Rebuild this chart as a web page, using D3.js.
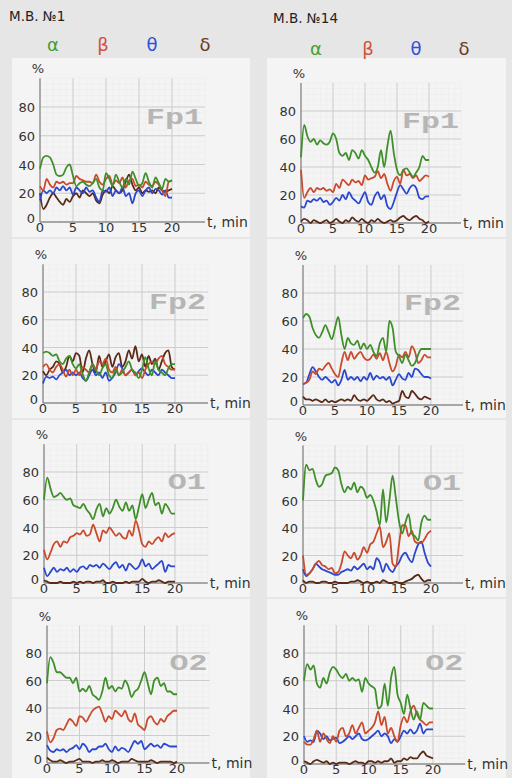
<!DOCTYPE html>
<html>
<head>
<meta charset="utf-8">
<script src="https://cdn.jsdelivr.net/npm/d3@7"></script>
<style>
  body { margin: 0; background: #e8e8e8; }
  svg { display: block; font-family: "DejaVu Sans", sans-serif; }
</style>
</head>
<body>
<svg id="chart" width="512" height="778"></svg>
<script>
// sampling: one reading every half minute, 0..20 min
var step = 0.5;
var bandNames = ['α', 'β', 'θ', 'δ'];
var subjects = ['М.В. №1', 'М.В. №14'];
var leads = ['Fp1', 'Fp2', 'O1', 'O2'];
var yTicks = [0, 20, 40, 60, 80];
var xTicks = [0, 5, 10, 15, 20];

// М.В. №1
var fp1Alpha1 = [37,45,46,45,40,33,32,33,38,40,32,25,27,28,26,25,27,30,24,22,34,30,25,33,28,24,30,26,35,30,25,27,34,28,24,31,27,23,30,28,29];
var fp1Beta1  = [25,22,30,26,24,28,27,28,26,27,27,32,30,29,28,28,27,33,28,26,30,32,26,29,27,31,24,29,30,25,26,24,28,26,25,28,26,22,18,28,29];
var fp1Theta1 = [15,22,20,22,20,24,22,25,22,24,19,24,22,20,24,21,22,17,14,22,21,24,18,22,20,24,18,20,13,20,22,18,22,24,20,23,22,19,22,17,17];
var fp1Delta1 = [20,9,12,17,20,17,14,12,16,14,18,20,17,22,20,18,20,15,13,19,22,20,25,22,20,22,28,33,26,22,24,20,22,21,22,20,24,22,21,22,23];

var fp2Alpha1 = [36,37,36,34,35,30,28,32,34,28,25,28,21,16,22,28,24,20,25,28,20,18,24,20,22,26,30,24,22,18,24,33,25,20,30,24,22,20,25,28,28];
var fp2Beta1  = [26,28,24,22,26,28,24,19,24,20,24,20,26,24,22,28,24,30,28,32,24,22,26,20,24,20,22,24,20,22,18,24,28,30,28,32,34,28,26,24,24];
var fp2Theta1 = [14,19,18,19,17,20,22,24,20,22,20,22,18,16,20,24,20,22,18,22,16,18,22,28,25,20,22,24,20,23,25,22,20,24,22,20,24,22,20,18,18];
var fp2Delta1 = [23,20,24,26,30,28,22,26,34,30,36,34,22,32,38,28,22,34,26,30,35,26,33,36,26,30,38,32,41,30,35,26,34,28,32,24,30,36,38,26,24];

var o1Alpha1 = [60,76,68,62,63,65,62,60,61,56,55,54,57,53,50,46,53,57,48,54,50,54,60,55,52,58,52,56,46,55,64,54,60,65,56,58,50,57,54,50,50];
var o1Beta1  = [24,17,22,28,30,26,30,29,33,34,36,35,38,34,35,42,36,30,38,36,40,37,34,36,33,32,38,34,45,38,28,26,30,28,31,33,30,36,33,35,36];
var o1Theta1 = [11,5,8,11,8,10,9,11,8,10,8,11,12,10,13,12,13,11,14,12,10,13,15,11,13,9,14,12,10,12,17,12,14,10,12,14,16,8,13,12,12];
var o1Delta1 = [2,1,0,0,0,1,0,0,0,1,0,1,0,1,1,0,1,1,2,0,0,1,0,0,0,1,0,1,1,1,3,1,0,1,1,2,1,0,1,1,1];

var o2Alpha1 = [58,77,73,66,66,64,62,62,58,62,52,54,52,56,50,48,46,52,62,54,56,52,55,54,60,56,48,52,54,60,66,58,50,60,62,56,58,52,52,50,50];
var o2Beta1  = [23,15,18,24,25,24,28,32,30,27,34,33,30,34,38,40,41,36,30,34,32,38,36,34,38,32,30,36,28,26,24,32,34,30,28,32,30,34,36,38,38];
var o2Theta1 = [13,9,8,10,9,10,8,10,11,13,10,14,12,8,10,10,12,12,14,10,8,12,9,11,10,8,12,16,14,16,10,12,14,12,13,11,14,13,12,12,12];
var o2Delta1 = [4,2,1,1,2,1,0,1,1,2,3,1,1,1,0,1,1,2,1,1,2,1,0,1,1,1,3,2,1,1,1,1,2,1,0,1,1,1,1,0,1];

// М.В. №14
var fp1Alpha14 = [47,70,62,58,60,56,59,57,56,58,64,60,50,48,50,45,52,50,46,52,48,45,40,36,40,52,40,55,66,50,38,34,38,39,36,33,36,40,48,45,45];
var fp1Beta14  = [38,18,22,25,22,25,24,25,23,24,22,28,25,31,29,27,31,29,30,27,34,31,32,33,37,32,35,28,23,30,33,28,38,34,35,32,34,30,32,34,33];
var fp1Theta14 = [12,11,16,15,17,16,18,15,16,13,15,18,16,20,17,22,18,16,14,18,22,15,13,19,22,17,20,12,10,15,22,27,24,21,25,27,25,18,17,19,19];
var fp1Delta14 = [1,3,2,0,2,1,0,1,2,0,1,3,1,0,2,1,4,2,1,3,1,0,2,1,3,1,0,1,2,1,2,4,5,3,2,4,5,3,2,0,1];

var fp2Alpha14 = [62,65,63,55,50,48,52,57,52,47,55,63,50,40,48,44,43,46,40,44,40,43,38,35,44,48,38,60,55,38,35,30,36,32,28,30,36,40,40,40,40];
var fp2Beta14  = [15,16,18,24,22,26,25,28,30,26,22,20,30,38,32,38,33,36,38,34,32,33,36,33,37,32,38,30,24,28,36,34,38,34,42,38,30,32,36,34,34];
var fp2Theta14 = [15,16,22,27,24,20,18,20,18,16,18,14,18,25,18,20,18,20,17,20,18,23,18,21,19,20,18,20,14,18,22,19,18,23,20,26,25,22,20,20,19];
var fp2Delta14 = [6,4,4,3,4,3,2,4,2,3,2,3,4,3,4,3,7,4,3,4,3,5,7,4,3,4,2,3,1,2,3,10,6,5,10,8,5,4,6,5,4];

var o1Alpha14 = [60,86,82,83,75,70,72,78,79,80,84,82,72,66,70,68,73,66,70,68,62,64,60,52,42,68,44,60,78,62,45,36,44,50,36,34,31,44,49,46,46];
var o1Beta14  = [20,6,7,10,14,16,13,12,10,11,7,8,14,23,20,18,22,17,20,26,22,28,30,36,41,26,30,36,14,12,28,42,42,34,38,30,29,29,32,36,38];
var o1Theta14 = [10,5,7,10,14,12,10,9,8,7,6,6,8,9,10,9,12,10,12,14,10,12,10,18,15,8,14,10,8,12,15,20,22,18,15,22,28,30,22,15,12];
var o1Delta14 = [2,0,1,1,0,0,1,1,0,0,1,0,0,0,0,1,1,2,1,0,1,0,0,1,0,2,1,0,0,1,0,0,1,2,3,5,6,3,1,2,2];

var o2Alpha14 = [60,72,68,71,58,55,62,58,66,70,68,64,62,65,60,62,60,61,52,62,58,56,54,40,42,58,42,62,70,50,44,36,50,40,32,38,32,44,42,40,40];
var o2Beta14  = [16,14,14,18,24,16,22,18,15,20,16,24,26,20,22,28,22,26,30,22,24,26,30,38,28,34,22,26,20,16,28,34,30,38,42,36,32,30,28,30,30];
var o2Theta14 = [20,16,17,16,24,22,18,20,17,18,19,15,16,18,20,18,20,22,18,17,18,20,22,24,20,22,20,15,18,16,20,24,22,25,22,24,29,22,25,25,25];
var o2Delta14 = [2,1,0,2,3,2,1,2,0,1,0,1,1,1,0,1,2,1,1,0,2,2,1,2,1,2,2,4,1,2,2,4,3,5,4,4,7,9,6,5,4];

var bandColors = ['#3f8f2b', '#c94a2c', '#2a48cf', '#5a2a18'];
var headColors = ['#43a032', '#d0503c', '#2f4fd8', '#6b3a22'];

// where each little chart sits: origin (0 min, 0 %) and pixel size of 20 min / 80 %
var panels = [
    {lead: 0, col: 0, x0: 40,  y0: 222, w: 132, h: 115, series: [fp1Alpha1, fp1Beta1, fp1Theta1, fp1Delta1]},
    {lead: 0, col: 1, x0: 301, y0: 223, w: 128, h: 112, series: [fp1Alpha14, fp1Beta14, fp1Theta14, fp1Delta14]},
    {lead: 1, col: 0, x0: 43,  y0: 403, w: 132, h: 111, series: [fp2Alpha1, fp2Beta1, fp2Theta1, fp2Delta1]},
    {lead: 1, col: 1, x0: 303, y0: 405, w: 128, h: 112, series: [fp2Alpha14, fp2Beta14, fp2Theta14, fp2Delta14]},
    {lead: 2, col: 0, x0: 44,  y0: 583, w: 131, h: 111, series: [o1Alpha1, o1Beta1, o1Theta1, o1Delta1]},
    {lead: 2, col: 1, x0: 303, y0: 583, w: 128, h: 110, series: [o1Alpha14, o1Beta14, o1Theta14, o1Delta14]},
    {lead: 3, col: 0, x0: 47,  y0: 763, w: 130, h: 110, series: [o2Alpha1, o2Beta1, o2Theta1, o2Delta1]},
    {lead: 3, col: 1, x0: 304, y0: 764, w: 129, h: 111, series: [o2Alpha14, o2Beta14, o2Theta14, o2Delta14]}
];

var svg = d3.select('#chart');

// photo-ish backdrop: header strip + lighter boards
svg.append('rect').attr('width', 512).attr('height', 778).attr('fill', '#e6e6e6');
var boards = [
    {x: 12, w: 238}, {x: 267, w: 239}
];
var rowTops = [58, 239, 420, 599];
var rowBottoms = [237, 418, 597, 778];
boards.forEach(function(b) {
    rowTops.forEach(function(top, i) {
        svg.append('rect')
            .attr('x', b.x).attr('y', top)
            .attr('width', b.w).attr('height', rowBottoms[i] - top)
            .attr('fill', '#f4f4f4');
    });
});

// headers
var headX = [[53, 103, 152, 205], [316, 368, 416, 464]];
subjects.forEach(function(s, i) {
    svg.append('text')
        .attr('x', i == 0 ? 9 : 273).attr('y', i == 0 ? 21 : 23)
        .attr('font-size', 13.5).attr('fill', '#222')
        .text(s);
    bandNames.forEach(function(b, j) {
        svg.append('text')
            .attr('x', headX[i][j]).attr('y', i == 0 ? 51 : 55)
            .attr('text-anchor', 'middle')
            .attr('font-size', 18).attr('fill', headColors[j])
            .text(b);
    });
});

function drawPanel(p) {
    var x = d3.scaleLinear().domain([0, 20]).range([p.x0, p.x0 + p.w]);
    var y = d3.scaleLinear().domain([0, 80]).range([p.y0, p.y0 - p.h]);
    var g = svg.append('g');

    // faint graph paper
    var minorX = d3.range(0, 25.01, 1), minorY = d3.range(0, 100.01, 4);
    g.selectAll('.mx').data(minorX).enter().append('line')
        .attr('x1', function(d) { return x(d); }).attr('x2', function(d) { return x(d); })
        .attr('y1', y(0)).attr('y2', y(100))
        .attr('stroke', '#ececec').attr('stroke-width', 0.6);
    g.selectAll('.my').data(minorY).enter().append('line')
        .attr('x1', x(0)).attr('x2', x(25))
        .attr('y1', function(d) { return y(d); }).attr('y2', function(d) { return y(d); })
        .attr('stroke', '#ececec').attr('stroke-width', 0.6);

    // major grid
    g.selectAll('.gx').data(xTicks.slice(1)).enter().append('line')
        .attr('x1', function(d) { return x(d); }).attr('x2', function(d) { return x(d); })
        .attr('y1', y(0)).attr('y2', y(100))
        .attr('stroke', '#cdcdcd').attr('stroke-width', 1);
    g.selectAll('.gy').data(yTicks.slice(1)).enter().append('line')
        .attr('x1', x(0)).attr('x2', x(25))
        .attr('y1', function(d) { return y(d); }).attr('y2', function(d) { return y(d); })
        .attr('stroke', '#cdcdcd').attr('stroke-width', 1);

    // lead label
    var name = leads[p.lead];
    g.append('text')
        .attr('x', x(25) - 2 - name.length * 19).attr('y', y(80) + 17)
        .attr('font-family', '"Liberation Mono", monospace')
        .attr('font-weight', 'bold').attr('font-size', 22)
        .attr('textLength', name.length * 19).attr('lengthAdjust', 'spacingAndGlyphs')
        .attr('fill', '#b6b6b6')
        .text(name);

    // axes
    g.append('line').attr('x1', x(0)).attr('x2', x(0)).attr('y1', y(0)).attr('y2', y(100))
        .attr('stroke', '#8c8c8c').attr('stroke-width', 1.4);
    g.append('line').attr('x1', x(0)).attr('x2', x(25)).attr('y1', y(0)).attr('y2', y(0))
        .attr('stroke', '#8c8c8c').attr('stroke-width', 1.4);

    // series
    var line = d3.line()
        .x(function(d, i) { return x(i * step); })
        .y(function(d) { return y(d); })
        .curve(d3.curveMonotoneX);
    for (var k = 3; k >= 0; k--) {
        g.append('path')
            .datum(p.series[k])
            .attr('d', line)
            .attr('fill', 'none')
            .attr('stroke', bandColors[k])
            .attr('stroke-width', 1.8)
            .attr('stroke-linejoin', 'round');
    }

    // tick labels
    g.selectAll('.ty').data(yTicks).enter().append('text')
        .attr('x', x(0) - 5)
        .attr('y', function(d) { return d == 0 ? y(d) + 1 : y(d) + 5; })
        .attr('text-anchor', 'end')
        .attr('font-size', 13).attr('fill', '#333')
        .text(function(d) { return d; });
    g.selectAll('.tx').data(xTicks).enter().append('text')
        .attr('x', function(d) { return x(d); })
        .attr('y', y(0) + 10)
        .attr('text-anchor', 'middle')
        .attr('font-size', 13).attr('fill', '#333')
        .text(function(d) { return d; });
    g.append('text')
        .attr('x', x(0) - 2).attr('y', y(100) - 5)
        .attr('text-anchor', 'middle')
        .attr('font-size', 13).attr('fill', '#333')
        .text('%');
    g.append('text')
        .attr('x', x(25) + 2).attr('y', y(0) + 5)
        .attr('font-size', 14).attr('fill', '#333')
        .text('t, min');
}

panels.forEach(drawPanel);
</script>
</body>
</html>
